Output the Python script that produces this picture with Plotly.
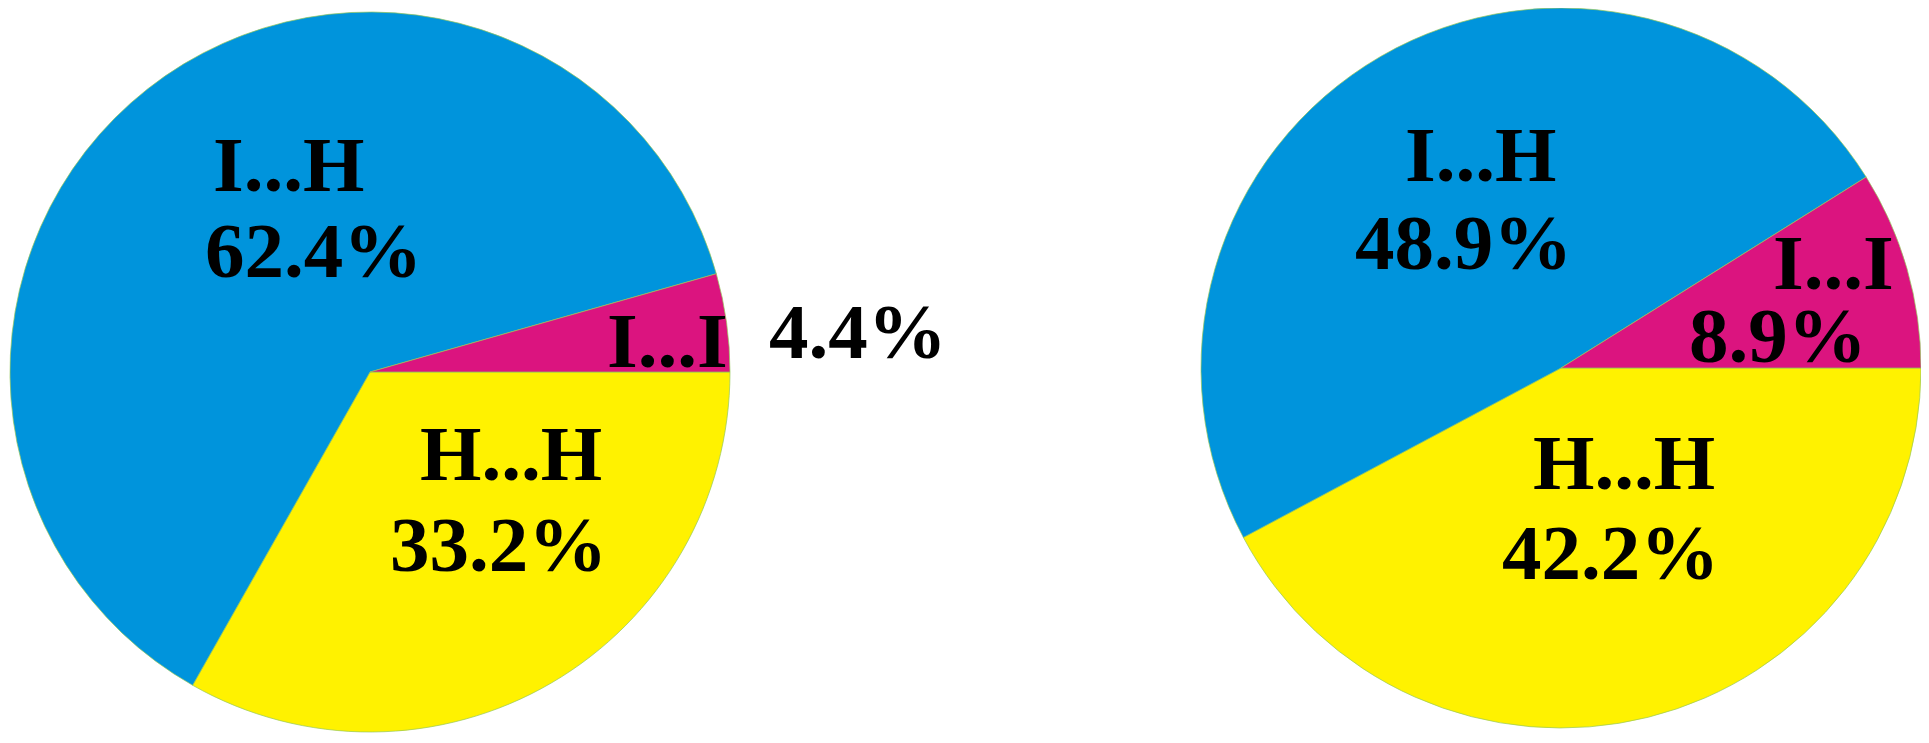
import plotly.graph_objects as go

# slice order: clockwise from 3 o'clock
labels = ["H...H", "I...H", "I...I"]
left_values = [33.2, 62.4, 4.4]
right_values = [42.2, 48.9, 8.9]
colors = ["#FFF200", "#0094DC", "#DB147F"]

W, H = 1929, 743
OFF = 8  # page body margin, the figure div starts 8px in
FW, FH = W - OFF, H - OFF

# label positions in page pixels (centre x, cap-middle y): name line then percent line
left_pos = {
    "I...I": [(667, 340), (858, 332)],
    "I...H": [(288, 164), (313, 250)],
    "H...H": [(511, 453), (498, 544)],
}
right_pos = {
    "I...I": [(1833, 263), (1778, 335)],
    "I...H": [(1480, 155), (1463, 242)],
    "H...H": [(1624, 462), (1610, 552)],
}


def px(x, y):
    # page pixel -> paper coords
    return (x - OFF) / FW, 1 - (y - OFF) / FH


def dom(x0, x1, y0, y1):
    fx = [max(0, (x0 - OFF) / FW), min(1, (x1 - OFF) / FW)]
    fy = [max(0, 1 - (y1 - OFF) / FH), min(1, 1 - (y0 - OFF) / FH)]
    return dict(x=fx, y=fy)


fig = go.Figure()

pie_style = dict(
    sort=False,
    direction="clockwise",
    rotation=90,
    textinfo="none",
    hoverinfo="label+percent",
    showlegend=False,
    marker=dict(colors=colors, line=dict(color="rgba(150,200,90,0.7)", width=1)),
)

fig.add_trace(go.Pie(labels=labels, values=left_values,
                     domain=dom(8, 732, 12, 732), **pie_style))
fig.add_trace(go.Pie(labels=labels, values=right_values,
                     domain=dom(1200, 1922, 8, 728), **pie_style))

annotations = []
for values, pos in [(left_values, left_pos), (right_values, right_pos)]:
    for lab, v in zip(labels, values):
        for (x, y), txt in zip(pos[lab], [lab, "%.1f%%" % v]):
            ax, ay = px(x, y)
            annotations.append(dict(
                x=ax, y=ay, xref="paper", yref="paper", text=txt,
                xanchor="center", yanchor="middle", showarrow=False,
                font=dict(family="Times New Roman", size=79,
                          weight="bold", color="black"),
            ))

fig.update_layout(
    width=FW, height=FH,
    margin=dict(l=0, r=0, t=0, b=0),
    paper_bgcolor="white",
    annotations=annotations,
)

fig.write_html("out.html")
